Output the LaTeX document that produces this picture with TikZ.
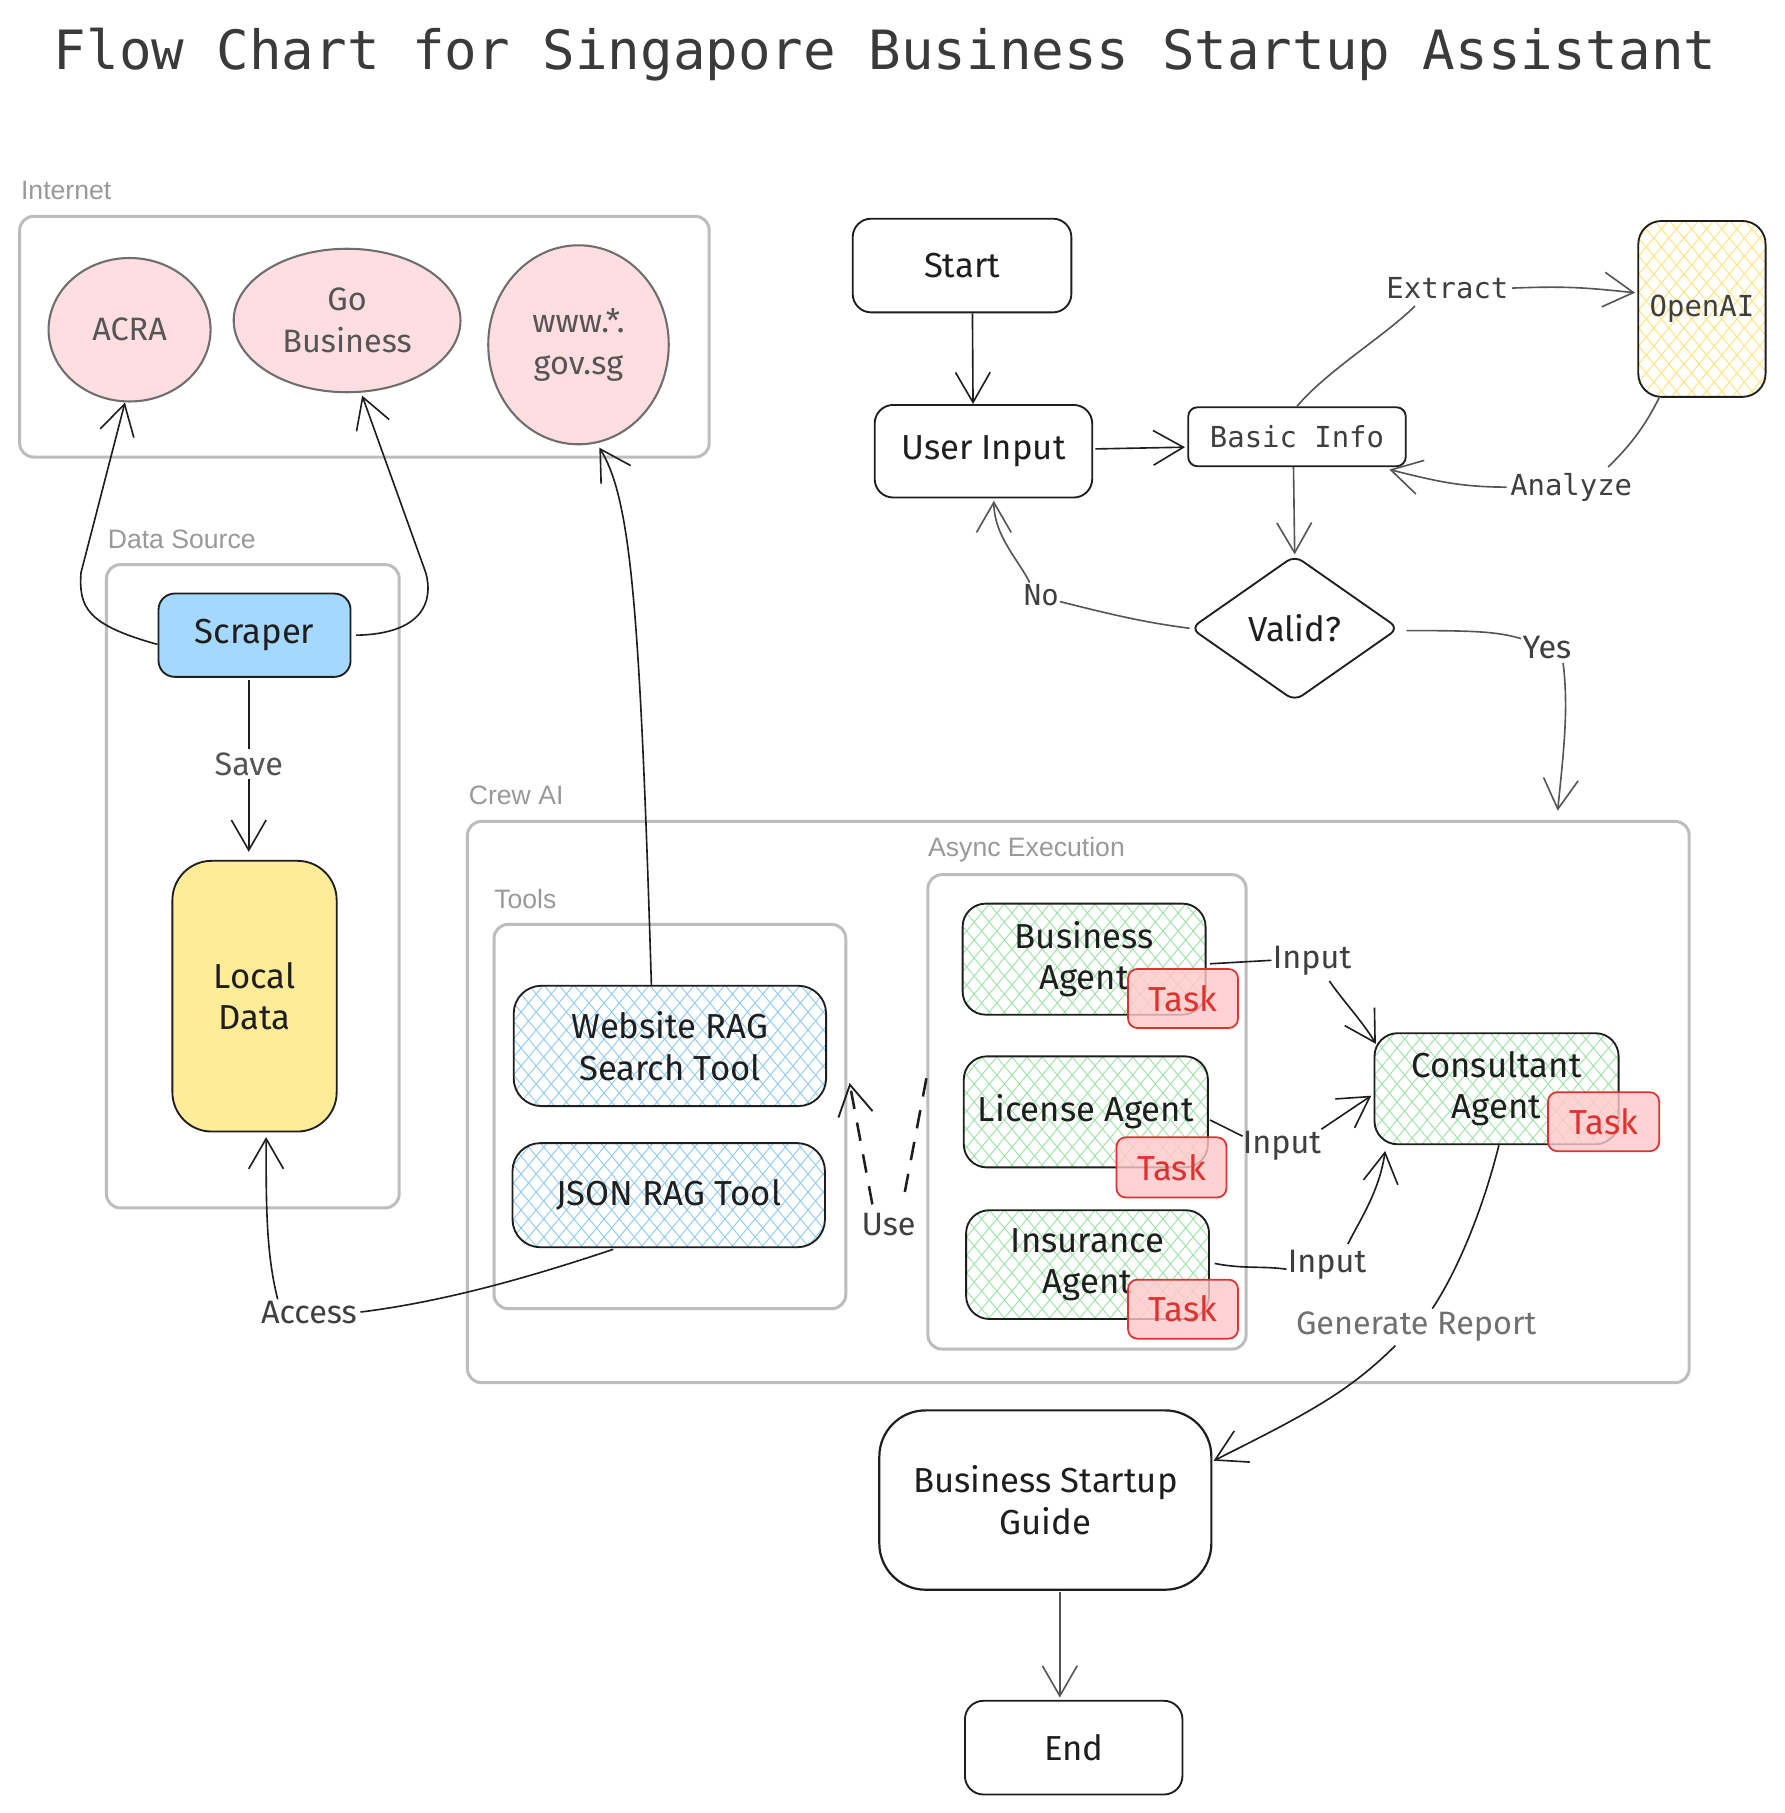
\documentclass[tikz,border=0pt]{standalone}
\usepackage{fontspec}
\setmainfont{Fira Sans}
\newfontfamily\handf{Fira Sans}
\newfontfamily\monof{DejaVu Sans Mono}
\newfontfamily\arialf{Liberation Sans}
\usetikzlibrary{arrows.meta,patterns.meta,shapes.geometric,calc}
\definecolor{ink}{HTML}{1E1E1E}
\definecolor{grpc}{HTML}{BDBDBD}
\definecolor{grplc}{HTML}{999999}
\definecolor{titlec}{HTML}{3A3A3A}
\definecolor{pinkf}{HTML}{FFDEE2}
\definecolor{circd}{HTML}{6E6E6E}
\definecolor{circt}{HTML}{555555}
\definecolor{bluef}{HTML}{A5D8FF}
\definecolor{yelf}{HTML}{FFEC99}
\definecolor{hblue}{HTML}{8FCBF5}
\definecolor{hgreen}{HTML}{9BE3A5}
\definecolor{hyel}{HTML}{FFE27A}
\definecolor{taskf}{HTML}{FFC9C9}
\definecolor{taskd}{HTML}{E03131}
\definecolor{lnc}{HTML}{555555}
\definecolor{lblc}{HTML}{3F3F3F}
\definecolor{genc}{HTML}{707070}
\begin{document}
\begin{tikzpicture}[x=1pt,y=-1pt,
 grpbox/.style={draw=grpc, line width=2.6pt, rounded corners=12pt, inner sep=0},
 grplbl/.style={font=\arialf\fontsize{23}{26}\selectfont, text=grplc, anchor=west, inner sep=0},
 procbox/.style={draw=ink, line width=1.6pt, rounded corners=16pt, align=center, text=ink, inner sep=0, font=\handf\fontsize{30}{36}\selectfont},
 monobox/.style={procbox, font=\monof\fontsize{25}{30}\selectfont, text=lblc},
 hatch/.style={preaction={fill=white},
   preaction={pattern={Lines[angle=50,distance=10pt,line width=0.8pt]}, pattern color=#1},
   preaction={pattern={Lines[angle=130,distance=10pt,line width=0.8pt]}, pattern color=#1}},
 taskbox/.style={draw=taskd, line width=1.5pt, fill=taskf, fill opacity=0.8, text opacity=1, text=taskd, rounded corners=8pt, minimum width=95pt, minimum height=51pt, inner sep=0, font=\handf\fontsize{30}{36}\selectfont},
 circnode/.style={ellipse, draw=circd, line width=1.8pt, fill=pinkf, align=center, text=circt, inner sep=0, font=\handf\fontsize{28}{36}\selectfont},
 conn/.style={draw=ink, line width=1.4pt, -{Straight Barb[length=26pt,width=30pt]}},
 connlight/.style={conn, draw=lnc},
 seg/.style={draw=ink, line width=1.4pt},
 seglight/.style={seg, draw=lnc},
 dashseg/.style={draw=ink, line width=2.2pt, dash pattern=on 16pt off 12pt},
 dashconn/.style={dashseg, -{Straight Barb[length=26pt,width=30pt,line width=1.6pt]}},
 elbl/.style={font=\handf\fontsize{28}{32}\selectfont, text=lblc, inner sep=3pt},
 mlbl/.style={font=\monof\fontsize{25}{30}\selectfont, text=lblc, inner sep=3pt},
]
\fill[white] (0,0) rectangle (1542,1567);
\useasboundingbox (0,0) rectangle (1542,1567);

% title
\node[font=\monof\fontsize{46.8}{50}\selectfont, text=titlec, inner sep=0] (title) at (765,47) {Flow Chart for Singapore Business Startup Assistant};

% groups
\node[grpbox, minimum width=596pt, minimum height=208pt] (internet) at (315,291) {};
\node[grplbl] (internetlbl) at (18,165) {Internet};
\node[grpbox, minimum width=253pt, minimum height=556pt] (datasrc) at (218.5,766) {};
\node[grplbl] (datasrclbl) at (93,466) {Data Source};
\node[grpbox, minimum width=1056pt, minimum height=485pt] (crewai) at (932,952.5) {};
\node[grplbl] (crewailbl) at (405,687) {Crew AI};
\node[grpbox, minimum width=304pt, minimum height=332pt] (tools) at (579,965) {};
\node[grplbl] (toolslbl) at (427,777) {Tools};
\node[grpbox, minimum width=275pt, minimum height=410pt] (async) at (939.5,961) {};
\node[grplbl] (asynclbl) at (802,734) {Async Execution};

% internet
\node[circnode, minimum width=140pt, minimum height=124pt] (acra) at (112,285) {ACRA};
\node[circnode, minimum width=196pt, minimum height=124pt] (gobiz) at (300,277) {Go\\Business};
\node[circnode, minimum width=156pt, minimum height=172pt] (www) at (500,298) {www.*.\\gov.sg};

% data source
\node[procbox, fill=bluef, minimum width=166pt, minimum height=72pt, rounded corners=14pt] (scraper) at (220,549) {Scraper};
\node[procbox, fill=yelf, minimum width=142pt, minimum height=234pt, rounded corners=34pt] (localdata) at (220,861) {Local\\Data};

% tools
\node[procbox, hatch=hblue, minimum width=270pt, minimum height=104pt, rounded corners=24pt] (webrag) at (579,904) {Website RAG\\Search Tool};
\node[procbox, hatch=hblue, minimum width=270pt, minimum height=90pt, rounded corners=24pt] (jsonrag) at (578,1033) {JSON RAG Tool};

% agents
\node[procbox, hatch=hgreen, minimum width=210pt, minimum height=96pt, rounded corners=20pt] (bizagent) at (937,829) {Business\\Agent};
\node[procbox, hatch=hgreen, minimum width=211pt, minimum height=96pt, rounded corners=20pt] (licagent) at (938.5,961) {License Agent};
\node[procbox, hatch=hgreen, minimum width=210pt, minimum height=94pt, rounded corners=20pt] (insagent) at (940,1093) {Insurance\\Agent};
\node[procbox, hatch=hgreen, minimum width=211pt, minimum height=96pt, rounded corners=20pt] (cons) at (1293.5,941) {Consultant\\Agent};
\node[taskbox] (biztask) at (1022.5,863) {Task};
\node[taskbox, minimum height=52pt] (lictask) at (1012.5,1009) {Task};
\node[taskbox] (instask) at (1022.5,1131.5) {Task};
\node[taskbox, minimum width=96pt] (constask) at (1386,969.5) {Task};

% main flow
\node[procbox, minimum width=189pt, minimum height=81pt] (start) at (831.5,229.5) {Start};
\node[procbox, minimum width=188pt, minimum height=80pt] (userinput) at (850,390) {User Input};
\node[monobox, minimum width=188pt, minimum height=51pt, rounded corners=8pt] (basicinfo) at (1121,377.5) {Basic Info};
\node[monobox, hatch=hyel, minimum width=110pt, minimum height=152pt, rounded corners=20pt] (openai) at (1471,267) {OpenAI};
\node[diamond, draw=ink, line width=1.6pt, minimum width=180pt, minimum height=126pt, inner sep=0, rounded corners=8pt, font=\handf\fontsize{30}{36}\selectfont, text=ink] (valid) at (1119,543) {Valid?};
\node[procbox, line width=1.9pt, minimum width=287pt, minimum height=155pt, rounded corners=40pt] (guide) at (903.5,1296.5) {Business Startup\\Guide};
\node[procbox, minimum width=188pt, minimum height=81pt] (endn) at (928,1510.5) {End};

% labels
\node[mlbl] (extract) at (1251,249) {Extract};
\node[mlbl] (analyze) at (1358,421) {Analyze};
\node[mlbl] (nolbl) at (900,514) {No};
\node[elbl] (yeslbl) at (1337,560) {Yes};
\node[elbl] (in1) at (1134,830) {Input};
\node[elbl] (in2) at (1108,990) {Input};
\node[elbl] (in3) at (1147,1093) {Input};
\node[elbl] (uselbl) at (768,1058) {Use};
\node[elbl] (access) at (267,1134) {Access};
\node[elbl, text=genc] (gen) at (1224,1147) {Generate Report};

% connectors
\draw[conn] ($(start.south)+(9,0)$) -- ($(userinput.north)+(-9,0)$);
\draw[conn] ($(userinput.east)+(2,-2)$) -- ($(basicinfo.west)+(-2,9)$);
\draw[seglight] (basicinfo.north) .. controls +(25,-30) and +(-25,25) .. ($(extract.south)+(-28,3)$);
\draw[connlight] (extract.east) .. controls +(50,-2) and +(-40,-4) .. ($(openai.west)+(-2,-14)$);
\draw[seglight] ($(openai.south)+(-37,0)$) .. controls +(-15,30) and +(15,-15) .. ($(analyze.north)+(32,-2)$);
\draw[connlight] (analyze.west) .. controls +(-40,0) and +(40,10) .. ($(basicinfo.south east)+(-15,2)$);
\draw[connlight] ($(basicinfo.south)+(-3,0)$) -- (valid.north);
\draw[seglight] (valid.west) .. controls +(-40,-5) and +(40,10) .. ($(nolbl.east)+(-2,6)$);
\draw[connlight] ($(nolbl.north)+(-10,2)$) .. controls +(-10,-20) and +(0,30) .. ($(userinput.south)+(9,2)$);
\draw[seglight] ($(valid.east)+(6,2)$) .. controls +(60,0) and +(-20,-6) .. ($(yeslbl.west)+(2,-8)$);
\draw[connlight] ($(yeslbl.south)+(14,0)$) .. controls +(5,40) and +(5,-50) .. ($(crewai.north east)+(-115,-8)$);

\draw[conn] ($(scraper.south)+(-5,2)$) -- node[elbl, fill=white, pos=0.49, text=lnc] (savelbl) {Save} ($(localdata.north)+(-5,-7)$);
\draw[conn] ($(scraper.west)+(0,8)$) .. controls (75,540) and (68,525) .. (70,495) -- ($(acra.south)+(-4,0)$);
\draw[conn] ($(scraper.east)+(4,0)$) .. controls (365,548) and (375,520) .. (368,495) -- ($(gobiz.south)+(13,2)$);
\draw[conn] ($(webrag.north)+(-16,0)$) .. controls +(-10,-330) and +(27,44) .. ($(www.south)+(18,2)$);

\draw[dashseg] ($(async.west)+(0,-29)$) -- ($(uselbl.north)+(12,-4)$);
\draw[dashconn] ($(uselbl.north)+(-14,-4)$) -- ($(tools.east)+(2,-29)$);

\draw[seg] ($(bizagent.east)+(3,4)$) -- ($(in1.west)+(2,0)$);
\draw[conn] ($(in1.south)+(15,2)$) .. controls +(10,15) and +(-12,-20) .. ($(cons.north west)+(2,10)$);
\draw[seg] ($(licagent.east)+(1,7)$) -- ($(in2.west)+(3,-8)$);
\draw[conn] ($(in2.east)+(-3,-14)$) -- ($(cons.west)+(-2,6)$);
\draw[seg] ($(insagent.east)+(4,-1)$) .. controls +(25,5) and +(-20,-3) .. ($(in3.west)+(2,4)$);
\draw[conn] ($(in3.north)+(18,-2)$) .. controls +(10,-20) and +(-5,35) .. ($(cons.south west)+(10,5)$);

\draw[seg] ($(cons.south)+(2,0)$) .. controls +(-15,60) and +(20,-30) .. ($(gen.north)+(14,0)$);
\draw[conn] ($(gen.south)+(-18,0)$) .. controls +(-40,40) and +(80,-40) .. ($(guide.east)+(1,-34)$);

\draw[seg] ($(jsonrag.south)+(-48,1)$) .. controls +(-60,20) and +(80,-10) .. (access.east);
\draw[conn] ($(access.north)+(-27,2)$) .. controls +(-10,-40) and +(0,60) .. ($(localdata.south)+(10,4)$);

\draw[connlight] ($(guide.south)+(12.5,1)$) -- ($(endn.north)+(-12,-2)$);
\end{tikzpicture}
\end{document}
